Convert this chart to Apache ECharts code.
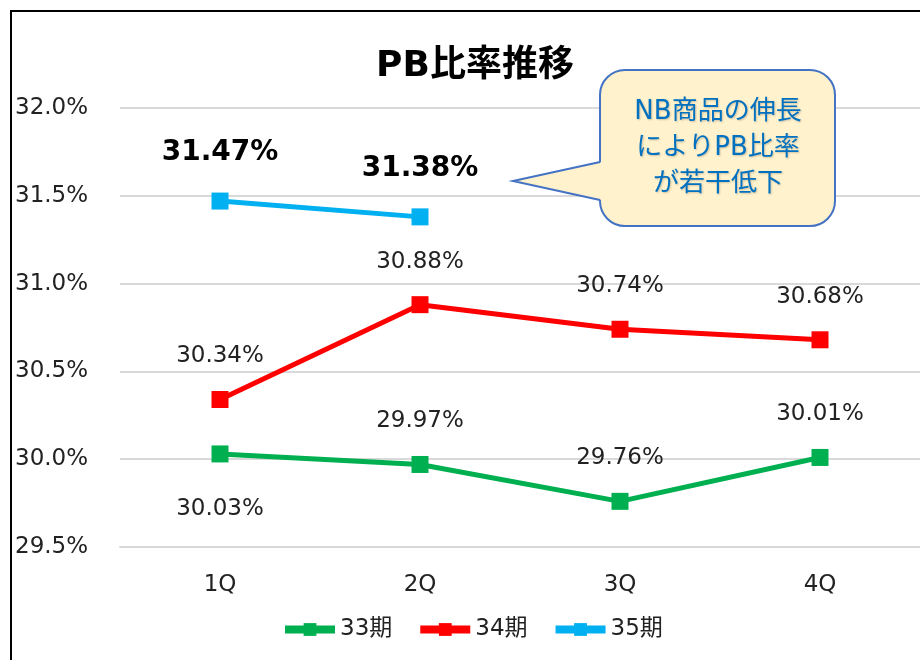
<!DOCTYPE html>
<html>
<head>
<meta charset="utf-8">
<script src="https://cdn.jsdelivr.net/npm/echarts@6/dist/echarts.min.js"></script>
<style>
  html, body { margin: 0; padding: 0; background: #fff; }
  #chart { width: 920px; height: 660px; }
</style>
</head>
<body>
<div id="chart"></div>
<script>
// data
var quarters = ['1Q', '2Q', '3Q', '4Q'];
var s33 = [30.03, 29.97, 29.76, 30.01];
var s34 = [30.34, 30.88, 30.74, 30.68];
var s35 = [31.47, 31.38, null, null];
var labelPos33 = ['bottom', 'top', 'top', 'top'];
var calloutLines = ['NB商品の伸長', 'によりPB比率', 'が若干低下'];

var FONT = '"DejaVu Sans", "Noto Sans CJK JP", sans-serif';

var chart = echarts.init(document.getElementById('chart'));

function pct(p) { return p.value.toFixed(2) + '%'; }

chart.setOption({
    animation: false,
    title: {
        text: 'PB比率推移',
        left: 470,
        textAlign: 'center',
        top: 44,
        textStyle: { fontFamily: FONT, fontSize: 36, fontWeight: 'bold', color: '#000' }
    },
    grid: { left: 120, right: 0, top: 108, bottom: 113 },
    xAxis: {
        type: 'category',
        data: quarters,
        axisLine: { lineStyle: { color: '#d9d9d9', width: 2 } },
        axisTick: { length: 8, lineStyle: { color: '#d9d9d9', width: 2 } },
        axisLabel: { margin: 27, fontFamily: FONT, fontSize: 23, color: '#222' }
    },
    yAxis: {
        type: 'value',
        min: 29.5,
        max: 32,
        interval: 0.5,
        axisLine: { show: false },
        axisTick: { show: false },
        splitLine: { lineStyle: { color: '#d9d9d9', width: 2 } },
        axisLabel: {
            align: 'left',
            margin: 105,
            fontFamily: FONT,
            fontSize: 23,
            color: '#222',
            formatter: function (v) { return v.toFixed(1) + '%'; }
        }
    },
    legend: {
        bottom: 14,
        left: 276,
        itemWidth: 50,
        itemHeight: 16,
        itemGap: 24,
        lineStyle: { width: 8 },
        textStyle: { fontFamily: FONT, fontSize: 23, color: '#222' },
        data: ['33期', '34期', '35期']
    },
    series: [
        {
            name: '33期',
            type: 'line',
            data: s33.map(function (v, i) {
                return {
                    value: v,
                    label: { position: labelPos33[i], distance: labelPos33[i] === 'bottom' ? 35 : 23 }
                };
            }),
            color: '#00B050',
            lineStyle: { width: 5 },
            symbol: 'rect',
            symbolSize: 17,
            label: {
                show: true,
                fontFamily: FONT,
                fontSize: 23,
                color: '#222',
                formatter: pct
            }
        },
        {
            name: '34期',
            type: 'line',
            data: s34,
            color: '#FF0000',
            lineStyle: { width: 5 },
            symbol: 'rect',
            symbolSize: 17,
            label: {
                show: true,
                position: 'top',
                distance: 23,
                fontFamily: FONT,
                fontSize: 23,
                color: '#222',
                formatter: pct
            }
        },
        {
            name: '35期',
            type: 'line',
            data: s35,
            color: '#00B0F0',
            lineStyle: { width: 5 },
            symbol: 'rect',
            symbolSize: 17,
            label: {
                show: true,
                position: 'top',
                distance: 26,
                fontFamily: FONT,
                fontSize: 28,
                fontWeight: 'bold',
                color: '#000',
                formatter: pct
            }
        }
    ],
    graphic: [
        {
            type: 'rect',
            shape: { x: 11, y: 11, width: 1000, height: 1000 },
            style: { fill: 'none', stroke: '#000', lineWidth: 2 },
            silent: true
        },
        // callout box
        {
            type: 'rect',
            shape: { x: 600, y: 70, width: 235, height: 156, r: 25 },
            style: { fill: '#FFF2CC', stroke: '#4472C4', lineWidth: 2 },
            z: 10
        },
        {
            type: 'polygon',
            shape: { points: [[602, 162], [513, 181], [602, 200]] },
            style: { fill: '#FFF2CC' },
            z: 11
        },
        {
            type: 'polyline',
            shape: { points: [[600, 162], [513, 181], [600, 200]] },
            style: { fill: 'none', stroke: '#4472C4', lineWidth: 2 },
            z: 11
        },
        {
            type: 'text',
            x: 718,
            y: 94,
            z: 12,
            style: {
                text: calloutLines.join('\n'),
                align: 'center',
                fontFamily: FONT,
                fontSize: 26,
                lineHeight: 36,
                fill: '#0070C0',
                textShadowColor: 'rgba(0,0,0,0.2)',
                textShadowBlur: 2,
                textShadowOffsetX: 1,
                textShadowOffsetY: 1
            }
        }
    ]
});
</script>
</body>
</html>
